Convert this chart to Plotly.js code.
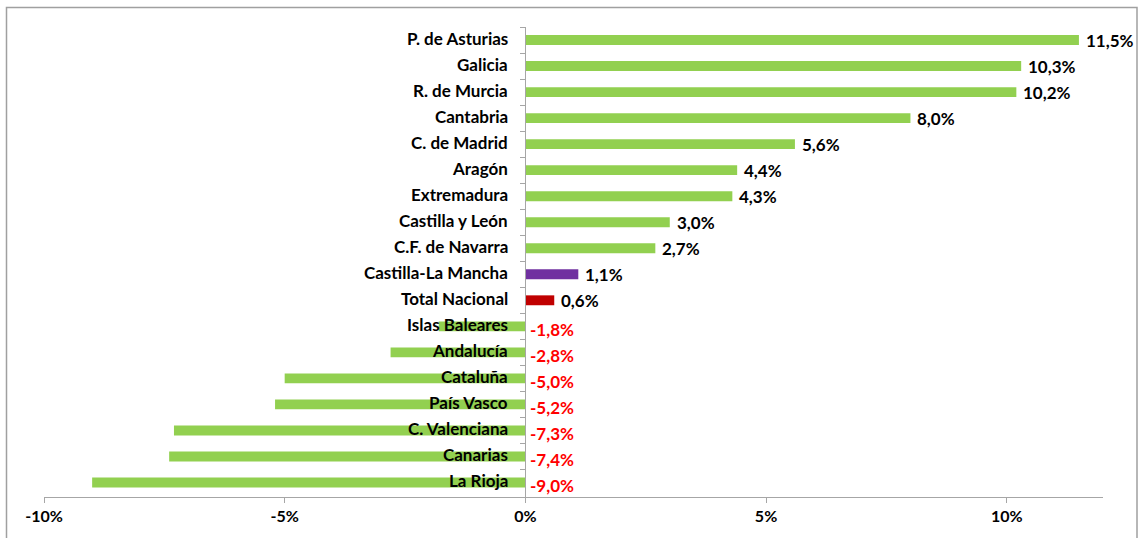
<!DOCTYPE html>
<html>
<head>
<meta charset="utf-8">
<script src="https://cdn.plot.ly/plotly-3.0.1.min.js"></script>
<style>html,body{margin:0;padding:0;background:#fff}#chart{width:1139px;height:538px}</style>
</head>
<body>
<div id="chart"></div>
<script>
const categories = ["P. de Asturias","Galicia","R. de Murcia","Cantabria","C. de Madrid","Aragón","Extremadura","Castilla y León","C.F. de Navarra","Castilla-La Mancha","Total Nacional","Islas Baleares","Andalucía","Cataluña","País Vasco","C. Valenciana","Canarias","La Rioja"];
const values = [11.5,10.3,10.2,8.0,5.6,4.4,4.3,3.0,2.7,1.1,0.6,-1.8,-2.8,-5.0,-5.2,-7.3,-7.4,-9.0];
const tickValues = [-10,-5,0,5,10];
const tickLabels = ["-10%","-5%","0%","5%","10%"];

const FONT = "Lato, 'Open Sans', 'Liberation Sans', sans-serif";
const barColors = categories.map(c => c === "Castilla-La Mancha" ? "#7030A0" : (c === "Total Nacional" ? "#C00000" : "#92D050"));
const fmt = v => v.toFixed(1).replace(".", ",") + "%";

const annotations = [];
categories.forEach((c, i) => {
  annotations.push({x: 0, y: c, xref: "x", yref: "y", text: c, showarrow: false,
    xanchor: "right", yanchor: "middle", xshift: -15, yshift: 2,
    font: {family: FONT, size: 17, color: "#000", weight: "bold"}});
  const v = values[i];
  if (v >= 0) {
    annotations.push({x: v, y: c, xref: "x", yref: "y", text: fmt(v), showarrow: false,
      xanchor: "left", yanchor: "middle", xshift: 5, yshift: 0,
      font: {family: FONT, size: 17, color: "#000", weight: "bold"}});
  } else {
    annotations.push({x: 0, y: c, xref: "x", yref: "y", text: fmt(v), showarrow: false,
      xanchor: "left", yanchor: "middle", xshift: 3, yshift: -3,
      font: {family: FONT, size: 17, color: "#FF0000", weight: "bold"}});
  }
});

const trace = {
  type: "bar", orientation: "h", x: values, y: categories,
  marker: {color: barColors}, hoverinfo: "none"
};

const layout = {
  width: 1139, height: 538,
  margin: {l: 44, r: 36, t: 27, b: 41},
  paper_bgcolor: "#fff", plot_bgcolor: "#fff",
  showlegend: false, bargap: 0.62,
  xaxis: {range: [-10, 12], tickmode: "array", tickvals: tickValues, ticktext: tickLabels,
    showgrid: false, zeroline: false, showline: true, linecolor: "#A6A6A6", linewidth: 1,
    ticks: "outside", ticklen: 5, tickcolor: "#A6A6A6",
    tickfont: {family: FONT, size: 16, color: "#000", weight: "bold"}, fixedrange: true},
  yaxis: {type: "category", autorange: "reversed", anchor: "free", position: 10/22,
    showgrid: false, zeroline: false, showline: true, linecolor: "#A6A6A6", linewidth: 1,
    ticks: "outside", tickson: "boundaries", ticklen: 5, tickcolor: "#A6A6A6",
    showticklabels: false, fixedrange: true},
  annotations: annotations,
  shapes: [{type: "rect", xref: "paper", yref: "paper",
    x0: (6.5 - 44) / 1059, x1: (1137 - 44) / 1059, y0: -0.12, y1: (497 - 7.5) / 470,
    line: {color: "#A0A0A0", width: 1.5}, fillcolor: "rgba(0,0,0,0)", layer: "below"}]
};

Plotly.newPlot("chart", [trace], layout, {displayModeBar: false, staticPlot: true});
</script>
</body>
</html>
